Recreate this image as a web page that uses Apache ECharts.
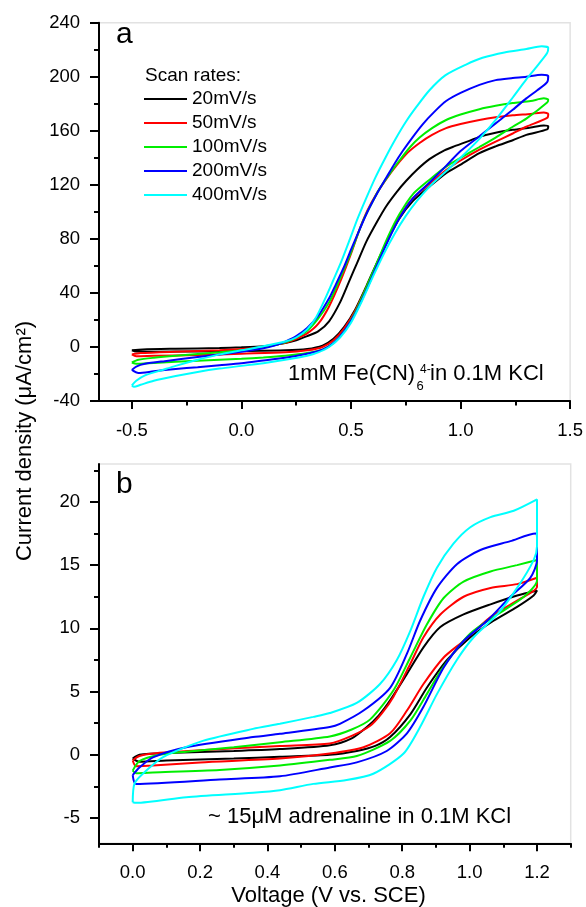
<!DOCTYPE html>
<html><head><meta charset="utf-8">
<script src="https://cdn.jsdelivr.net/npm/echarts@6/dist/echarts.min.js"></script>
<style>html,body{margin:0;padding:0;background:#fff}#c{width:586px;height:907px}</style>
</head><body><div id="c"></div>
<script>
// ---------- data ----------
const rates = ['20mV/s', '50mV/s', '100mV/s', '200mV/s', '400mV/s'];
const colors = ['#000000', '#ff0000', '#00ee00', '#0000ff', '#00ffff'];

// Panel a ticks
const xTicksA = [-0.5, 0, 0.5, 1.0, 1.5];
const xMinorA = [-0.25, 0.25, 0.75, 1.25];
const yTicksA = [-40, 0, 40, 80, 120, 160, 200, 240];
const yMinorA = [-20, 20, 60, 100, 140, 180, 220];
// Panel b ticks
const xTicksB = [0, 0.2, 0.4, 0.6, 0.8, 1.0, 1.2];
const xMinorB = [-0.1, 0.1, 0.3, 0.5, 0.7, 0.9, 1.1, 1.3];
const yTicksB = [-5, 0, 5, 10, 15, 20];
const yMinorB = [-2.5, 2.5, 7.5, 12.5, 17.5, 22.5];

// Panel a: 1mM Fe(CN)6 4- loops [V, uA/cm2]
const loopA20 = [[-0.5,-2.5],[-0.45,-1.8],[-0.3,-1.3],[-0.1,-0.8],[0,-0.3],[0.1,0.6],[0.2,3],[0.25,5],[0.3,8],[0.35,11.5],[0.4,19],[0.45,33],[0.49,48],[0.53,63],[0.57,78],[0.62,93],[0.66,104],[0.71,115],[0.752,123],[0.8,131],[0.858,139],[0.92,145],[0.964,148],[1.03,152],[1.086,155.5],[1.16,158.5],[1.238,160.7],[1.32,162.5],[1.38,164],[1.4,163.5],
  [1.395,161],[1.3,157],[1.238,153],[1.16,148.5],[1.086,143.5],[1.0,135],[0.934,128.7],[0.86,119],[0.782,108],[0.72,95],[0.67,80],[0.62,63],[0.57,45],[0.52,28],[0.47,15],[0.42,6],[0.37,1],[0.3,-1.5],[0.2,-2.5],[0,-3],[-0.2,-3.3],[-0.4,-3.5],[-0.48,-3.4],[-0.5,-2.5]];
const loopA50 = [[-0.5,-5.5],[-0.46,-4.5],[-0.3,-3.5],[-0.1,-2.5],[0,-1.5],[0.1,0],[0.2,3],[0.25,6],[0.3,10],[0.35,17],[0.4,30],[0.455,50],[0.5,69],[0.539,87],[0.575,101],[0.615,113],[0.66,124],[0.706,134],[0.76,144],[0.813,151],[0.87,157],[0.934,162],[1.0,165],[1.086,168],[1.16,170],[1.238,171.5],[1.32,172.5],[1.38,173.5],[1.4,172.5],
  [1.395,169.5],[1.3,163],[1.238,158],[1.16,152],[1.086,146],[1.0,138],[0.934,131],[0.86,121],[0.782,110],[0.72,96],[0.67,80],[0.62,62],[0.57,44],[0.52,27],[0.47,14],[0.42,5],[0.37,0],[0.3,-2.5],[0.2,-4],[0,-5],[-0.2,-6],[-0.4,-6.5],[-0.48,-6.8],[-0.5,-5.5]];
const loopA100 = [[-0.5,-11.5],[-0.47,-9.5],[-0.4,-8],[-0.3,-6.5],[-0.1,-4],[0,-2.5],[0.1,-0.5],[0.2,3.5],[0.25,7],[0.3,12],[0.35,21],[0.4,33],[0.44,47],[0.5,70],[0.554,93],[0.6,108],[0.63,117],[0.68,129],[0.721,138],[0.77,148],[0.813,155],[0.87,162],[0.934,168],[1.0,172],[1.086,176],[1.16,178.5],[1.238,180.5],[1.32,182],[1.38,184],[1.4,183],
  [1.395,181],[1.3,169],[1.238,163],[1.16,155],[1.086,148],[1.0,140],[0.934,133.5],[0.86,124],[0.782,113],[0.72,98],[0.67,82],[0.62,63],[0.57,44],[0.52,26],[0.47,12],[0.42,3],[0.37,-2],[0.3,-4.5],[0.2,-6.5],[0.1,-7.8],[0,-8.8],[-0.2,-10.2],[-0.4,-11.8],[-0.48,-12.5],[-0.5,-11.5]];
const loopA200 = [[-0.5,-17],[-0.48,-14.5],[-0.44,-12.5],[-0.35,-10.5],[-0.2,-7.5],[-0.1,-5.5],[0,-3.5],[0.1,-1],[0.15,1],[0.2,4],[0.25,8],[0.3,14],[0.35,23],[0.4,36],[0.43,46],[0.47,60],[0.5,72],[0.55,91],[0.584,103],[0.62,114],[0.66,125],[0.7,136],[0.736,145],[0.78,155],[0.828,165],[0.88,174],[0.934,182],[1.0,188],[1.086,194],[1.16,197.5],[1.238,199],[1.3,200],[1.37,201.5],[1.4,200.5],
  [1.395,196],[1.35,190],[1.3,184],[1.238,175.5],[1.16,165.5],[1.086,156],[1.0,145],[0.934,134],[0.86,122],[0.782,110],[0.72,95],[0.67,79],[0.62,61],[0.57,42],[0.52,25],[0.47,12],[0.42,3],[0.37,-2],[0.3,-5],[0.2,-8],[0.1,-10],[0,-12],[-0.1,-13.5],[-0.2,-15],[-0.3,-16.3],[-0.4,-18],[-0.47,-19.3],[-0.5,-17]];
const loopA400 = [[-0.5,-28.5],[-0.48,-25],[-0.44,-21],[-0.36,-17],[-0.3,-14],[-0.2,-9.5],[-0.1,-5.5],[0,-2.5],[0.1,0.5],[0.2,4],[0.25,7],[0.3,13],[0.341,22],[0.38,35],[0.418,49],[0.455,63],[0.493,79],[0.53,95],[0.569,110],[0.61,125],[0.66,141],[0.7,153],[0.752,167],[0.8,178],[0.858,190],[0.93,201],[1.025,209],[1.1,214],[1.2,218],[1.3,220.5],[1.37,222.5],[1.4,221.5],
  [1.395,217.5],[1.35,208],[1.3,198],[1.24,185],[1.16,168],[1.086,154],[1.0,140],[0.934,130],[0.86,119],[0.8,108],[0.75,97],[0.7,84],[0.65,69],[0.6,52],[0.55,34],[0.5,18],[0.45,7],[0.4,0],[0.35,-4],[0.3,-6.5],[0.2,-9.5],[0.1,-12],[0,-14],[-0.1,-16],[-0.2,-18.5],[-0.3,-21.5],[-0.4,-25],[-0.46,-28],[-0.49,-29.5],[-0.5,-28.5]];

// Panel b: ~15uM adrenaline loops [V, uA/cm2]
const loopB20 = [[0,-0.3],[0.02,0],[0.1,0.15],[0.3,0.3],[0.437,0.45],[0.585,0.75],[0.65,1.3],[0.695,2.2],[0.73,3.1],[0.764,4.3],[0.814,6.4],[0.863,8.5],[0.913,10.1],[0.982,11.1],[1.062,11.9],[1.141,12.6],[1.2,13],
  [1.19,12.6],[1.141,11.7],[1.071,10.6],[1.002,9.3],[0.933,7.5],[0.873,5.3],[0.824,3.2],[0.764,1.4],[0.72,0.7],[0.665,0.3],[0.585,0.0],[0.437,-0.15],[0.3,-0.3],[0.1,-0.45],[0.02,-0.55],[0,-0.3]];
const loopB50 = [[0,-0.45],[0.02,-0.1],[0.06,0.1],[0.2,0.35],[0.437,0.7],[0.585,0.9],[0.65,1.5],[0.705,2.3],[0.74,3.3],[0.774,4.6],[0.824,7.2],[0.863,9.3],[0.913,11.1],[0.982,12.5],[1.062,13.2],[1.141,13.5],[1.2,14.0],
  [1.2,13.3],[1.141,12.2],[1.062,10.9],[0.982,9],[0.923,7.7],[0.863,5.6],[0.814,3.5],[0.764,1.7],[0.685,0.6],[0.585,0.1],[0.437,-0.3],[0.2,-0.6],[0.06,-0.85],[0.01,-0.9],[0,-0.45]];
const loopB100 = [[0,-1.25],[0.02,-0.5],[0.08,0],[0.159,0.25],[0.3,0.6],[0.437,1.0],[0.585,1.45],[0.65,2.0],[0.705,2.8],[0.774,5.1],[0.824,7.7],[0.873,10.3],[0.923,12.4],[0.982,13.7],[1.062,14.5],[1.141,15.0],[1.2,15.4],
  [1.2,13.8],[1.161,12.5],[1.082,11.1],[1.002,9.6],[0.923,7],[0.873,4.8],[0.824,2.7],[0.764,1.1],[0.665,-0.1],[0.585,-0.4],[0.437,-0.85],[0.258,-1.2],[0.06,-1.4],[0.01,-1.45],[0,-1.25]];
const loopB200 = [[0,-1.6],[0.02,-1],[0.06,-0.2],[0.159,0.6],[0.357,1.4],[0.437,1.66],[0.585,2.2],[0.615,2.45],[0.685,3.5],[0.764,5.3],[0.814,8],[0.853,10.6],[0.903,13.2],[0.963,15.1],[1.032,16.2],[1.121,16.9],[1.196,17.5],
  [1.2,17.1],[1.2,15.4],[1.18,14],[1.121,12.5],[1.052,10.6],[0.982,9],[0.923,6.9],[0.863,3.8],[0.814,1.7],[0.754,0.3],[0.665,-0.6],[0.585,-1.0],[0.437,-1.7],[0.258,-1.95],[0.01,-2.3],[0,-1.6]];
const loopB400 = [[0,-3.75],[0.005,-2.3],[0.03,-1.5],[0.089,-0.2],[0.208,1.1],[0.357,2.05],[0.437,2.45],[0.536,3.0],[0.585,3.3],[0.665,4.1],[0.734,5.6],[0.784,7.5],[0.824,9.8],[0.863,12.5],[0.903,14.8],[0.952,16.7],[1.002,18],[1.062,18.8],[1.131,19.3],[1.2,20.2],
  [1.2,16.5],[1.19,15.4],[1.141,13.2],[1.082,11.1],[1.012,9.3],[0.962,7.5],[0.903,4.8],[0.853,2.2],[0.804,0.1],[0.714,-1.5],[0.635,-2],[0.536,-2.3],[0.437,-2.8],[0.357,-3.0],[0.159,-3.35],[0.01,-3.8],[0,-3.75]];

const loopsA = [loopA20, loopA50, loopA100, loopA200, loopA400];
const loopsB = [loopB20, loopB50, loopB100, loopB200, loopB400];

// ---------- chart ----------
const FONT = '"Liberation Sans", Arial, sans-serif';
const chart = echarts.init(document.getElementById('c'), null, {renderer: 'canvas'});

function majorX(grid, min, max, ticks, dec) {
  return {
    gridIndex: grid, type: 'value', min: min, max: max, position: 'bottom',
    axisLine: {show: true, onZero: false, lineStyle: {color: '#000', width: 2}},
    axisTick: {show: true, customValues: ticks, length: 8, lineStyle: {color: '#000', width: 2}},
    axisLabel: {show: true, customValues: ticks, formatter: v => Number(v).toFixed(dec),
      fontSize: 18.5, fontFamily: FONT, color: '#000', margin: 20},
    splitLine: {show: false}
  };
}
function minorX(grid, min, max, ticks) {
  return {
    gridIndex: grid, type: 'value', min: min, max: max, position: 'bottom',
    axisLine: {show: false, onZero: false},
    axisTick: {show: true, customValues: ticks, length: 4.5, lineStyle: {color: '#000', width: 2}},
    axisLabel: {show: false}, splitLine: {show: false}
  };
}
function majorY(grid, min, max, ticks) {
  return {
    gridIndex: grid, type: 'value', min: min, max: max, position: 'left',
    axisLine: {show: true, onZero: false, lineStyle: {color: '#000', width: 2}},
    axisTick: {show: true, customValues: ticks, length: 9, lineStyle: {color: '#000', width: 2}},
    axisLabel: {show: true, customValues: ticks, formatter: v => String(Math.round(v)),
      fontSize: 18.5, fontFamily: FONT, color: '#000', margin: 19},
    splitLine: {show: false}
  };
}
function minorY(grid, min, max, ticks) {
  return {
    gridIndex: grid, type: 'value', min: min, max: max, position: 'left',
    axisLine: {show: false, onZero: false},
    axisTick: {show: true, customValues: ticks, length: 5, lineStyle: {color: '#000', width: 2}},
    axisLabel: {show: false}, splitLine: {show: false}
  };
}

const series = [];
loopsA.forEach((d, i) => series.push({
  name: rates[i], type: 'line', xAxisIndex: 0, yAxisIndex: 0, data: d,
  showSymbol: false, symbol: 'none', smooth: 0.25, silent: true,
  lineStyle: {color: colors[i], width: 2}, itemStyle: {color: colors[i]}
}));
loopsB.forEach((d, i) => series.push({
  name: rates[i], type: 'line', xAxisIndex: 2, yAxisIndex: 2, data: d,
  showSymbol: false, symbol: 'none', smooth: 0.25, silent: true,
  lineStyle: {color: colors[i], width: 2}, itemStyle: {color: colors[i]}
}));

// text helper: y is the baseline, converted to the em-box middle
function txt(x, baseline, s, size, align) {
  return {type: 'text', x: x, y: baseline - 0.35 * size,
    style: {text: s, font: size + 'px ' + FONT, fill: '#000', align: align || 'left', verticalAlign: 'middle'}};
}

const option = {
  animation: false,
  backgroundColor: '#fff',
  grid: [
    {left: 99, right: 15.3, top: 22.7, height: 378.3, show: true, borderColor: '#e2e2e2', borderWidth: 1.5, backgroundColor: 'transparent'},
    {left: 99, right: 15.3, top: 464, height: 379.3, show: true, borderColor: '#e2e2e2', borderWidth: 1.5, backgroundColor: 'transparent'}
  ],
  xAxis: [
    majorX(0, -0.65, 1.5, xTicksA, 1),
    minorX(0, -0.65, 1.5, xMinorA),
    majorX(1, -0.1, 1.3, xTicksB, 1),
    minorX(1, -0.1, 1.3, xMinorB)
  ],
  yAxis: [
    majorY(0, -40, 240, yTicksA),
    minorY(0, -40, 240, yMinorA),
    majorY(1, -7, 23, yTicksB),
    minorY(1, -7, 23, yMinorB)
  ],
  legend: {
    data: rates, orient: 'vertical', left: 144, top: 89, padding: 0,
    icon: 'rect', itemWidth: 43, itemHeight: 2, itemGap: 4,
    selectedMode: false,
    textStyle: {fontSize: 19, fontFamily: FONT, color: '#000', lineHeight: 20}
  },
  graphic: [
    txt(145, 82, 'Scan rates:', 19),
    txt(116, 45, 'a', 30),
    txt(116, 495, 'b', 30),
    txt(288, 382, '1mM Fe(CN)', 22),
    txt(416.5, 391, '6', 13),
    txt(420, 374, '4-', 12),
    txt(430, 382, 'in 0.1M KCl', 22),
    txt(208, 825, '~ 15\u03bcM adrenaline in 0.1M KCl', 22),
    txt(328.5, 904, 'Voltage (V vs. SCE)', 22, 'center'),
    {type: 'text', x: 25, y: 441, rotation: Math.PI / 2,
      style: {text: 'Current density (\u03bcA/cm\u00b2)', font: '22px ' + FONT, fill: '#000', align: 'center', verticalAlign: 'middle'}}
  ],
  series: series
};
chart.setOption(option);
</script>
</body></html>
